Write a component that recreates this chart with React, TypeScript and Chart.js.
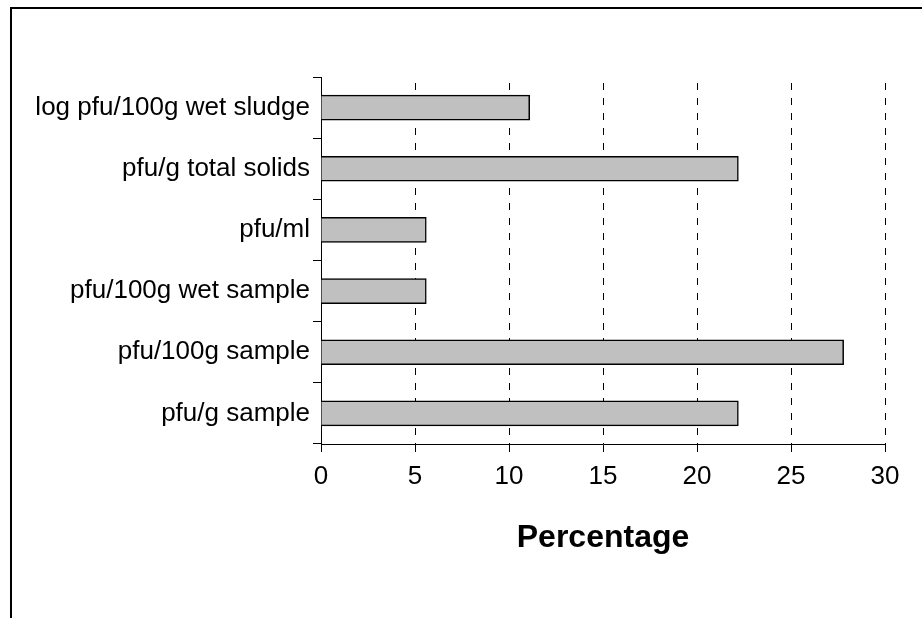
import React, { useEffect, useRef } from "react";
import { Chart, registerables } from "chart.js";

Chart.register(...registerables);

const categories = [
  "log pfu/100g wet sludge",
  "pfu/g total solids",
  "pfu/ml",
  "pfu/100g wet sample",
  "pfu/100g sample",
  "pfu/g sample",
];
const percentages = [11.1, 22.2, 5.6, 5.6, 27.8, 22.2];
const xMin = 0;
const xMax = 30;
const xStep = 5;
const xTitle = "Percentage";

const FONT = "'Liberation Sans', Arial, Helvetica, sans-serif";

export default function App() {
  const ref = useRef<HTMLCanvasElement | null>(null);

  useEffect(() => {
    if (!ref.current) return;
    const chart = new Chart(ref.current, {
      type: "bar",
      data: {
        labels: categories,
        datasets: [
          {
            data: percentages,
            backgroundColor: "#c0c0c0",
            borderColor: "#000000",
            borderWidth: 1.5,
            barThickness: 25,
          },
        ],
      },
      options: {
        indexAxis: "y",
        animation: false,
        responsive: false,
        devicePixelRatio: 1,
        layout: { padding: { left: 0, right: 37, top: 77, bottom: 0 } },
        plugins: {
          legend: { display: false },
          tooltip: { enabled: false },
          title: { display: false },
        },
        scales: {
          x: {
            type: "linear",
            position: "bottom",
            min: xMin,
            max: xMax,
            ticks: {
              stepSize: xStep,
              color: "#000",
              padding: 9,
              font: { family: FONT, size: 26 },
            },
            grid: {
              display: true,
              drawOnChartArea: true,
              drawTicks: true,
              tickLength: 8,
              color: "#000",
              lineWidth: 1,
              tickColor: "#000",
              tickWidth: 1,
            },
            border: {
              display: true,
              color: "#000",
              width: 1,
              dash: [7, 8],
              dashOffset: 9,
            },
            title: {
              display: true,
              text: xTitle,
              color: "#000",
              font: { family: FONT, size: 32, weight: "bold" },
              padding: { top: 0, bottom: 61 },
            },
            afterFit: (scale: any) => {
              scale.height = 174;
            },
          },
          y: {
            type: "category",
            position: "left",
            ticks: {
              color: "#000",
              padding: 3,
              font: { family: FONT, size: 26 },
            },
            grid: {
              display: true,
              drawOnChartArea: false,
              drawTicks: true,
              tickLength: 8,
              offset: true,
              color: "#000",
              tickColor: "#000",
              tickWidth: 1,
            },
            border: { display: true, color: "#000", width: 1 },
            afterFit: (scale: any) => {
              scale.width = 321;
            },
          },
        },
      } as any,
    });
    return () => chart.destroy();
  }, []);

  return (
    <div style={{ position: "absolute", left: 0, top: 0, width: 922, height: 618, background: "#fff", overflow: "hidden" }}>
      <canvas ref={ref} width={922} height={618} style={{ display: "block", width: 922, height: 618 }} />
      <div
        style={{
          position: "absolute",
          left: 10,
          top: 7,
          right: -4,
          bottom: -4,
          borderTop: "2px solid #000",
          borderLeft: "2px solid #000",
          pointerEvents: "none",
        }}
      />
    </div>
  );
}
